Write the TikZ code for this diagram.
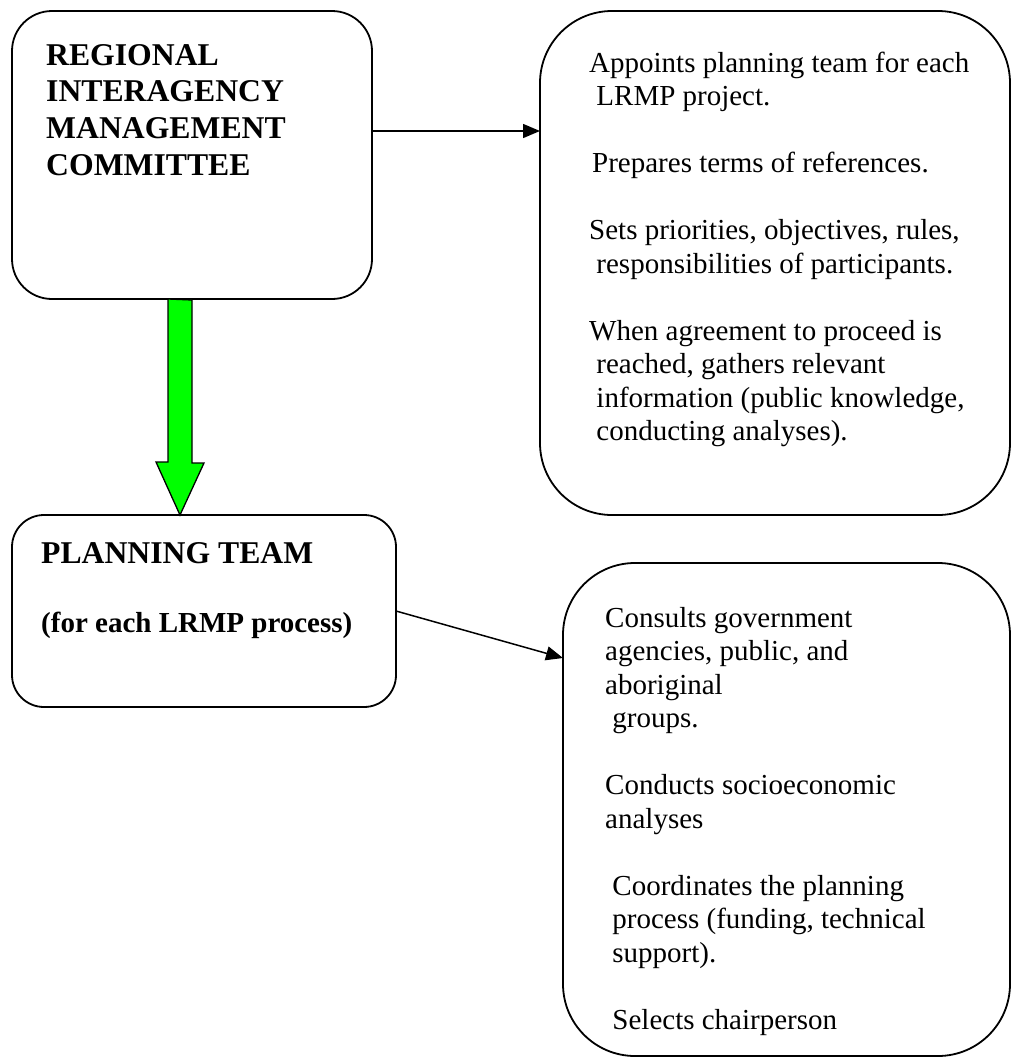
\documentclass[tikz,border=0pt]{standalone}
\usepackage{fontspec}
\setmainfont{Liberation Serif}
\usetikzlibrary{arrows.meta,positioning,calc}
\definecolor{arrowgreen}{RGB}{0,255,0}
\tikzstyle{box} = [rectangle, draw, line width=1.8pt, inner sep=0pt, outer sep=0pt]
\tikzstyle{link} = [-{Triangle[length=17pt,width=14pt]}, line width=1.5pt]
\tikzstyle{head} = [font=\bfseries\fontsize{31.7}{36.8}\selectfont, inner sep=0pt, anchor=base west]
\tikzstyle{subhead} = [font=\bfseries\fontsize{29}{33.5}\selectfont, inner sep=0pt, anchor=base west]
\tikzstyle{body} = [font=\fontsize{29}{33.5}\selectfont, inner sep=0pt, anchor=base west]
\newcommand{\lines}[1]{\begin{tabular}[t]{@{}l@{}}#1\end{tabular}}

\begin{document}
\begin{tikzpicture}[x=1pt,y=-1pt]
  \useasboundingbox (0,0) rectangle (1011,1063);

  \node[box, rounded corners=40pt, minimum width=360pt, minimum height=288pt] (rimc)  at (192,155)   {};
  \node[box, rounded corners=72pt, minimum width=470pt, minimum height=504pt] (rimcjobs) at (775,263) {};
  \node[box, rounded corners=32pt, minimum width=384pt, minimum height=192pt] (team)  at (204,611)   {};
  \node[box, rounded corners=72pt, minimum width=447pt, minimum height=493pt] (teamjobs) at (786.5,809.5) {};

  \node[head] (rimctitle) at ([shift={(34pt,-54pt)}]rimc.north west)
    {\lines{REGIONAL\\ INTERAGENCY\\ MANAGEMENT\\ COMMITTEE}};
  \node[head] (teamtitle) at ([shift={(29pt,-48pt)}]team.north west) {PLANNING TEAM};
  \node[subhead] (teamnote) at ([yshift=-69pt]teamtitle.base west) {(for each LRMP process)};

  \node[body] (rimctext) at ([shift={(49pt,-61pt)}]rimcjobs.north west)
    {\lines{Appoints planning team for each\\
      \ LRMP project.\\
      \\
      \hspace*{3pt}Prepares terms of references.\\
      \\
      Sets priorities, objectives, rules,\\
      \ responsibilities of participants.\\
      \\
      When agreement to proceed is\\
      \ reached, gathers relevant\\
      \ information (public knowledge,\\
      \ conducting analyses).}};
  \node[body] (teamtext) at ([shift={(42pt,-64pt)}]teamjobs.north west)
    {\lines{Consults government\\
      agencies, public, and\\
      aboriginal\\
      \ groups.\\
      \\
      Conducts socioeconomic\\
      analyses\\
      \\
      \ Coordinates the planning\\
      \ process (funding, technical\\
      \ support).\\
      \\
      \ Selects chairperson}};

  \coordinate (a1) at ([yshift=24pt]rimc.east);
  \coordinate (a2) at ([yshift=151.5pt]teamjobs.west);
  \draw[link] (a1) -- (a1 -| rimcjobs.west);
  \draw[link] (team.east) -- (a2);

  \coordinate (gtop) at ([xshift=-12pt]rimc.south);
  \coordinate (gtip) at (gtop |- team.north);
  \draw[fill=arrowgreen, line width=1.3pt]
    (gtop) ++(-12,0) -- ++(0,163) -- ++(-12,0) -- (gtip) -- ++(24,-52)
    -- ++(-12,0) -- ++(0,-163) -- cycle;
\end{tikzpicture}
\end{document}
